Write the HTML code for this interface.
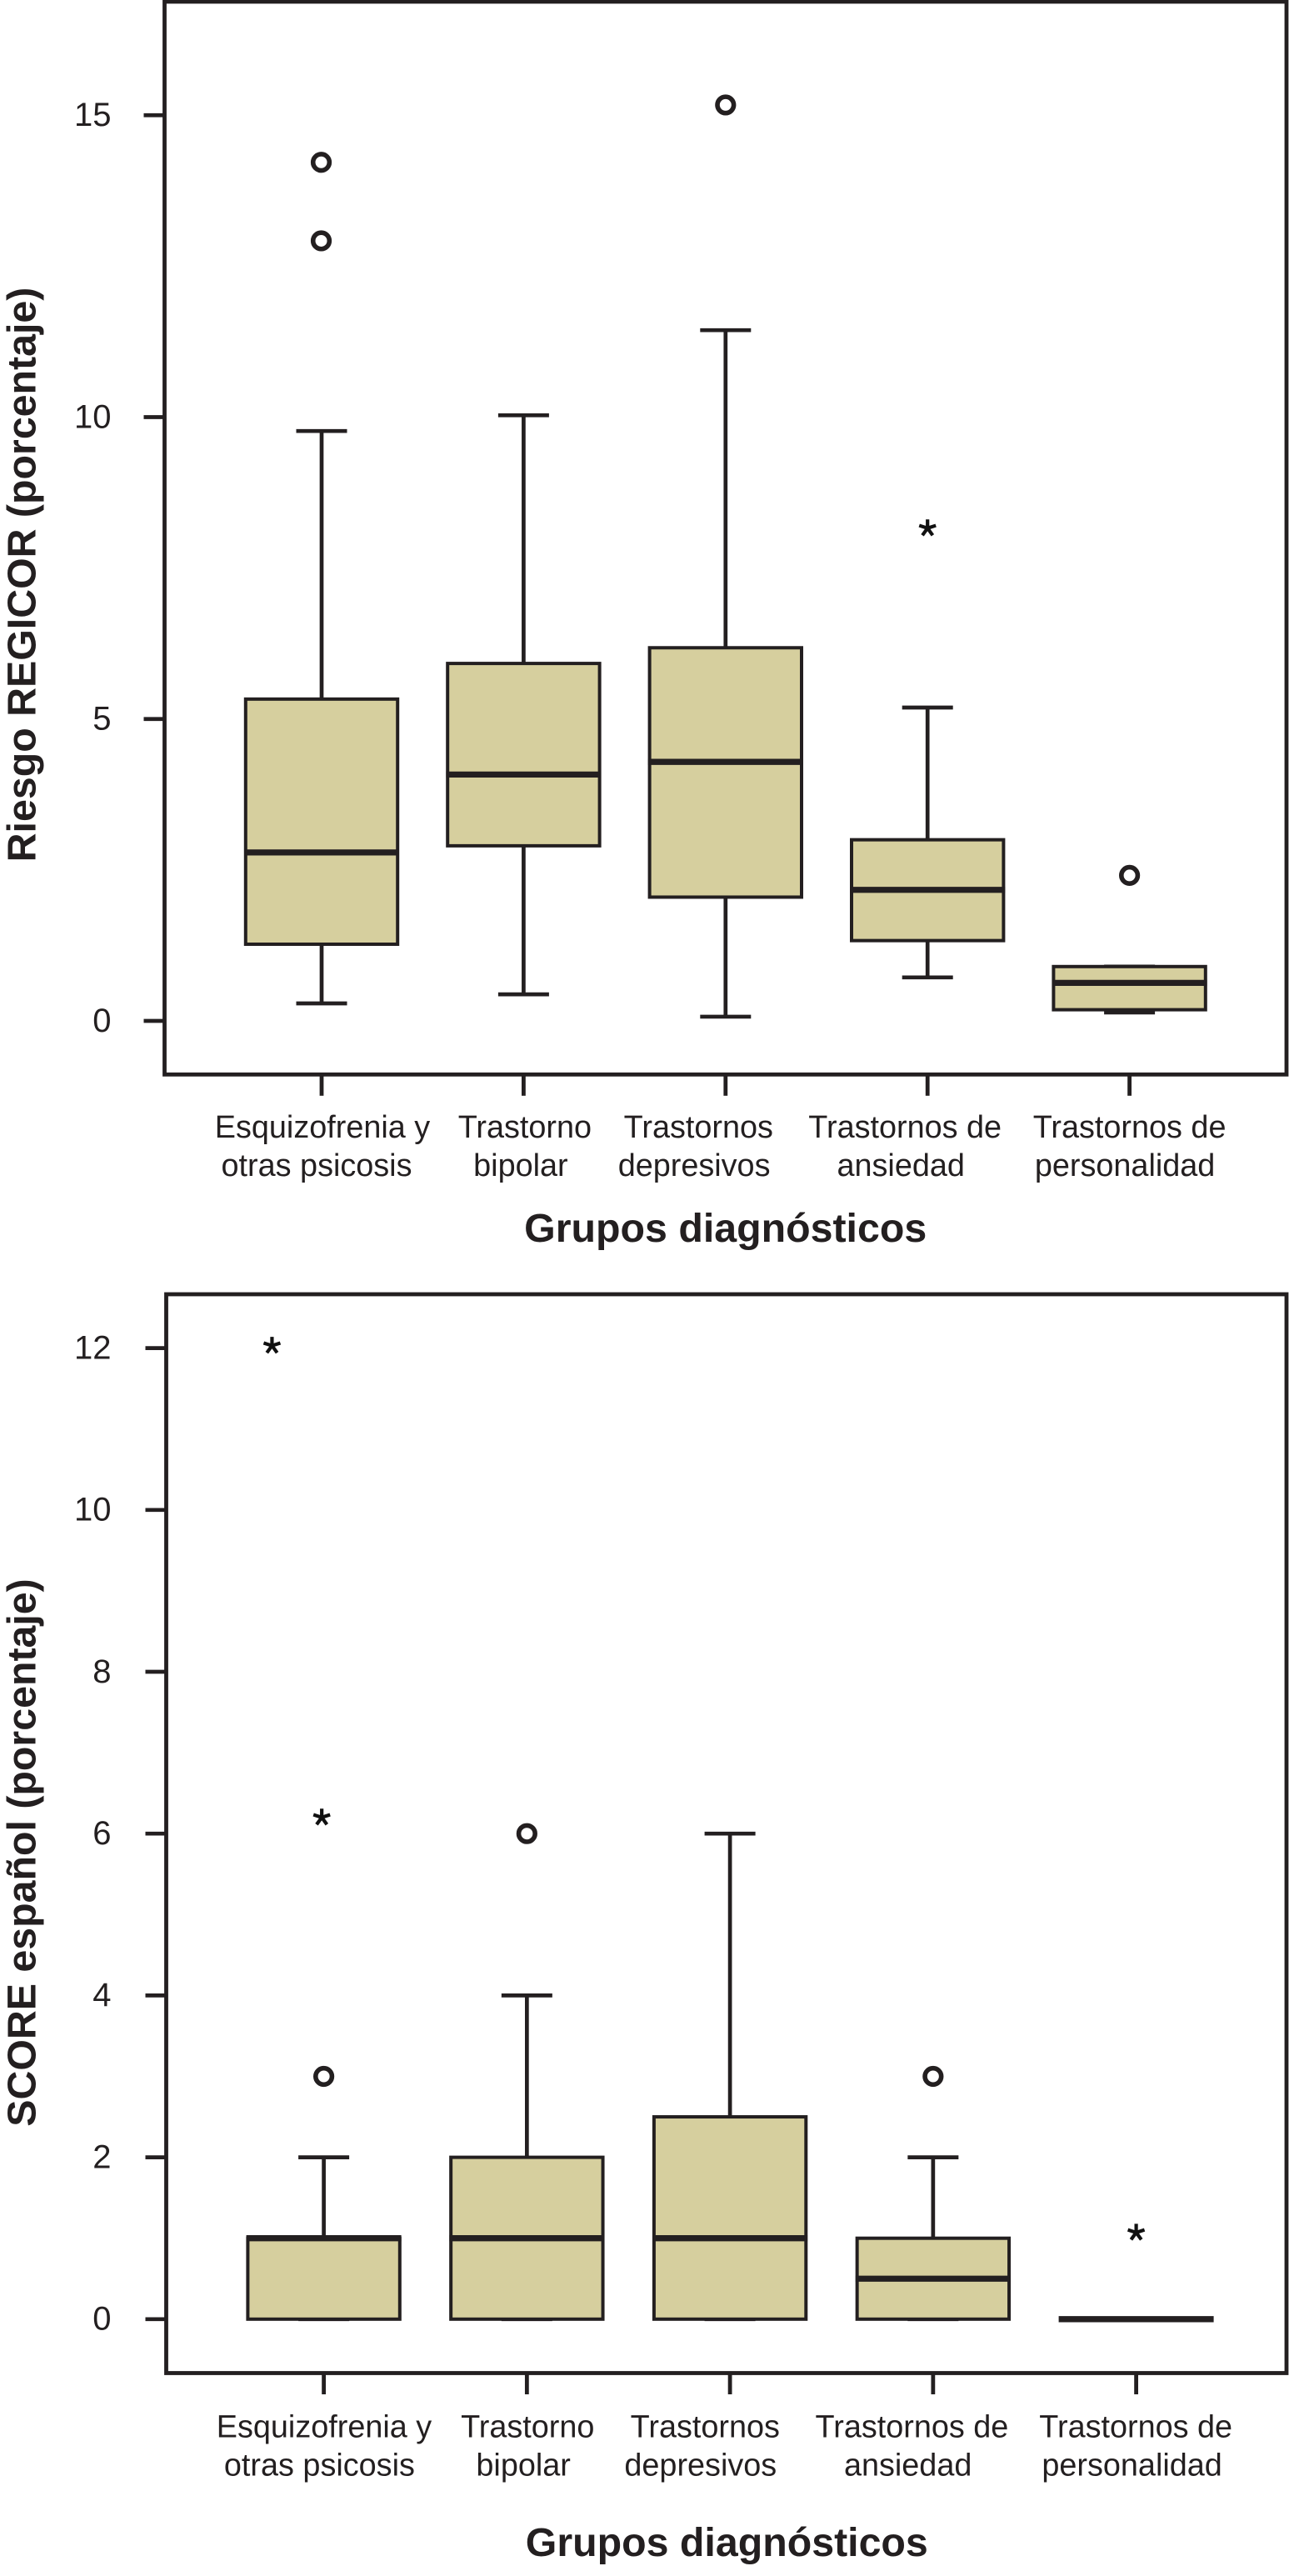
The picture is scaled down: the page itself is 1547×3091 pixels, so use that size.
<!DOCTYPE html>
<html lang="es">
<head>
<meta charset="utf-8">
<title>Riesgo REGICOR y SCORE por grupos diagnósticos</title>
<style>
html,body{margin:0;padding:0;background:#fff;width:1547px;height:3091px;overflow:hidden}
svg{display:block}
text{font-family:"Liberation Sans",Arial,sans-serif;fill:#231f20}
</style>
</head>
<body>
<svg id="figure" xmlns="http://www.w3.org/2000/svg" width="1547" height="3091" viewBox="0 0 1547 3091"></svg>
<script>
// Shared category labels (two printed lines each)
const categoryLabels = [
  ["Esquizofrenia y", "otras psicosis"],
  ["Trastorno", "bipolar"],
  ["Trastornos", "depresivos"],
  ["Trastornos de", "ansiedad"],
  ["Trastornos de", "personalidad"]
];

// Chart 1: Riesgo REGICOR
const regicorTicks = [0, 5, 10, 15];
const regicorLow = [0.29, 0.44, 0.07, 0.72, 0.14];
const regicorQ1 = [1.27, 2.90, 2.05, 1.33, 0.185];
const regicorMedian = [2.79, 4.08, 4.29, 2.17, 0.63];
const regicorQ3 = [5.33, 5.92, 6.18, 3.00, 0.90];
const regicorHigh = [9.77, 10.03, 11.44, 5.19, 0.90];
const regicorCircleCats = [-0.002, -0.002, 2, 4];
const regicorCircleValues = [14.22, 12.92, 15.17, 2.41];
const regicorStarCats = [3];
const regicorStarValues = [8.16];

// Chart 2: SCORE español
const scoreTicks = [0, 2, 4, 6, 8, 10, 12];
const scoreLow = [0, 0, 0, 0, 0];
const scoreQ1 = [0, 0, 0, 0, 0];
const scoreMedian = [1, 1, 1, 0.5, 0];
const scoreQ3 = [1, 2, 2.5, 1, 0];
const scoreHigh = [2, 4, 6, 2, 0];
const scoreCircleCats = [0, 1, 3];
const scoreCircleValues = [3, 6, 3];
const scoreStarCats = [-0.255, -0.01, 4];
const scoreStarValues = [12.03, 6.2, 1.07];

const INK = "#231f20";
const FILL = "#d6cf9e";
const svgNS = "http://www.w3.org/2000/svg";
const root = document.getElementById("figure");

function make(tag, parent, props) {
  const node = document.createElementNS(svgNS, tag);
  for (const key in props) node.setAttribute(key, props[key]);
  parent.appendChild(node);
  return node;
}

function drawChart(c) {
  const y = v => c.zeroY - c.unitY * v;
  const x = i => c.firstX + c.stepX * i;

  const group = make("g", root, {});
  
  

  const frame = make("rect", group, {
    x: c.left, y: c.top, width: c.right - c.left, height: c.bottom - c.top,
    fill: "#fff", stroke: INK, "stroke-width": 4.8
  });
  
  

  // y axis ticks and labels
  c.ticks.forEach(t => {
    const tick = make("line", group, {
      x1: c.left - 25, x2: c.left, y1: y(t), y2: y(t), stroke: INK, "stroke-width": 4.7
    });
    
    
    const label = make("text", group, {
      x: 133.5, y: y(t) + 12.8, "text-anchor": "end", "font-size": 40
    });
    label.textContent = String(t);
    
    
  });

  // boxes and x ticks
  categoryLabels.forEach((lines, i) => {
    const cx = x(i);
    const tick = make("line", group, {
      x1: cx, x2: cx, y1: c.bottom, y2: c.bottom + 25.5, stroke: INK, "stroke-width": 4.8
    });
    
    

    lines.forEach((line, k) => {
      const label = make("text", group, {
        x: cx + c.labelShift[i][k], y: c.labelY + k * 46, "text-anchor": "middle", "font-size": 37.8
      });
      label.textContent = line;
      
      
    });

    const whisker = make("path", group, {
      d: "M" + (cx - 30.5) + " " + y(c.high[i]) + "H" + (cx + 30.5) +
         "M" + cx + " " + y(c.high[i]) + "V" + y(c.low[i]) +
         "M" + (cx - 30.5) + " " + y(c.low[i]) + "H" + (cx + 30.5),
      fill: "none", stroke: INK, "stroke-width": 4.7
    });
    
    

    const box = make("rect", group, {
      x: cx - 91.2, y: y(c.q3[i]), width: 182.4, height: y(c.q1[i]) - y(c.q3[i]),
      fill: FILL, stroke: INK, "stroke-width": 4
    });
    
    

    const median = make("line", group, {
      x1: cx - 93, x2: cx + 93, y1: y(c.median[i]), y2: y(c.median[i]), stroke: INK, "stroke-width": 7.3
    });
    
    
  });

  // circle outliers
  c.circleCats.forEach((cat, i) => {
    const dot = make("circle", group, {
      cx: x(cat), cy: y(c.circleValues[i]), r: 9.8, fill: "#fff", stroke: INK, "stroke-width": 5.6
    });
    
    
  });

  // extreme-value star markers
  c.starCats.forEach((cat, i) => {
    const sx = x(cat), sy = y(c.starValues[i]);
    let d = "";
    for (let a = 0; a < 5; a++) {
      const ang = (-90 + a * 72) * Math.PI / 180;
      d += "M" + sx + " " + sy + "L" + (sx + 10.5 * Math.cos(ang)) + " " + (sy + 10.5 * Math.sin(ang));
    }
    const star = make("path", group, { d: d, fill: "none", stroke: "#111", "stroke-width": 4.2 });
    
    
  });

  const xTitle = make("text", group, {
    x: c.xTitleX, y: c.xTitleY, "text-anchor": "middle", "font-size": 48.3, "font-weight": 700
  });
  xTitle.textContent = "Grupos diagnósticos";
  
  

  const yTitle = make("text", group, {
    transform: "translate(42.3 " + c.yTitleY + ") rotate(-90)", "text-anchor": "middle",
    "font-size": 48.3, "font-weight": 700
  });
  yTitle.textContent = c.yTitle;
  
  
}

drawChart({
  name: "regicor-boxplot", yTitle: "Riesgo REGICOR (porcentaje)",
  left: 197.5, right: 1544, top: 2, bottom: 1289.3,
  zeroY: 1225, unitY: 72.45, firstX: 386, stepX: 242.4,
  ticks: regicorTicks, low: regicorLow, q1: regicorQ1, median: regicorMedian, q3: regicorQ3, high: regicorHigh,
  circleCats: regicorCircleCats, circleValues: regicorCircleValues,
  starCats: regicorStarCats, starValues: regicorStarValues,
  labelY: 1365, labelShift: [[1, -6], [1.5, -3.5], [-32.5, -37.7], [-27, -32], [0, -5.5]],
  xTitleX: 870.7, xTitleY: 1490, yTitleY: 689.5
});

drawChart({
  name: "score-boxplot", yTitle: "SCORE español (porcentaje)",
  left: 199.5, right: 1544, top: 1553, bottom: 2847.5,
  zeroY: 2782.8, unitY: 97.1, firstX: 388.6, stepX: 243.75,
  ticks: scoreTicks, low: scoreLow, q1: scoreQ1, median: scoreMedian, q3: scoreQ3, high: scoreHigh,
  circleCats: scoreCircleCats, circleValues: scoreCircleValues,
  starCats: scoreStarCats, starValues: scoreStarValues,
  labelY: 2924.3, labelShift: [[0.4, -5.2], [0.9, -4.2], [-29.8, -35.3], [-25.4, -30.2], [-0.4, -5]],
  xTitleX: 872.3, xTitleY: 3067, yTitleY: 2223
});
</script>
</body>
</html>
